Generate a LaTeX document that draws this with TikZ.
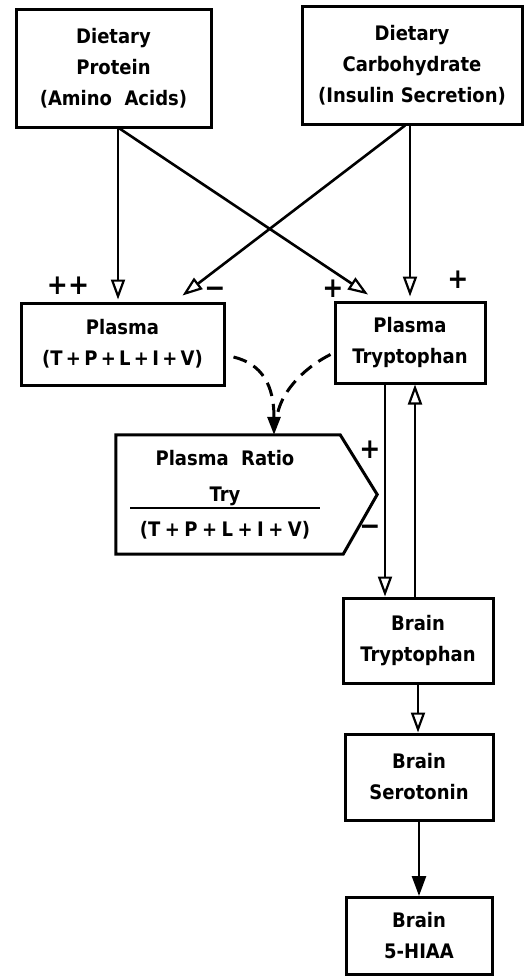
\documentclass[tikz,border=0pt]{standalone}
\usepackage{fontspec}
\setmainfont{DejaVu Sans}
\newfontfamily\lett{DejaVu Sans Condensed Bold}
\usetikzlibrary{arrows.meta}
\newcommand{\pl}{\hspace{3.3pt}+\hspace{3.3pt}}
\newcommand{\plr}{\hspace{4.5pt}+\hspace{4.5pt}}
\begin{document}
\begin{tikzpicture}[x=1pt,y=-1pt,
  box/.style={draw, line width=3pt, align=center, inner sep=0pt, font=\lett\fontsize{20}{31}\selectfont},
  arr/.style={line width=2.6pt, -{Triangle[open,length=20pt,width=14pt,line width=2.2pt]}},
  arrs/.style={line width=2.6pt, -{Triangle[length=20pt,width=14pt]}},
  dpath/.style={line width=3pt, dash pattern=on 14pt off 8pt},
  sign/.style={font=\lett\fontsize{28}{28}\selectfont, inner sep=0pt}]
\useasboundingbox (0,0) rectangle (527,977);

% boxes
\node[box, minimum width=195pt, minimum height=118pt] (prot) at (113.5,68) {Dietary\\Protein\\(Amino~ Acids)};
\node[box, minimum width=220pt, minimum height=118pt] (carb) at (412,65) {Dietary\\Carbohydrate\\(Insulin Secretion)};
\node[box, minimum width=203pt, minimum height=82pt] (plasma) at (122.5,344) {Plasma\\(T\pl P\pl L\pl I\pl V)};
\node[box, minimum width=150pt, minimum height=81pt] (ptry) at (410,342.5) {Plasma\\Tryptophan};
\node[box, minimum width=150pt, minimum height=85pt] (btry) at (418,640.5) {Brain\\Tryptophan};
\node[box, minimum width=148pt, minimum height=86pt] (bser) at (419,777) {Brain\\Serotonin};
\node[box, minimum width=146pt, minimum height=77pt] (bhia) at (419,936) {Brain\\5-HIAA};

% ratio pentagon
\node[minimum width=261pt, minimum height=119pt, inner sep=0pt] (ratio) at (246.5,494.5) {};
\draw[line width=3pt, line join=miter] (ratio.north west) -- ([xshift=-37pt]ratio.north east) -- (ratio.east) -- ([xshift=-34pt]ratio.south east) -- (ratio.south west) -- cycle;
\node[align=center, inner sep=0pt, font=\lett\fontsize{20}{35.5}\selectfont] (ratiotxt) at (225,495) {Plasma~ Ratio\\Try\\(T\plr P\plr L\plr I\plr V)};
\draw[line width=1.8pt] ([xshift=-95pt,yshift=-13pt]ratiotxt.center) -- ([xshift=95pt,yshift=-13pt]ratiotxt.center);

% connectors from diet boxes
\draw[arr] ([xshift=4.5pt]prot.south) -- ([xshift=4.5pt,yshift=2pt]prot.south |- plasma.north);
\draw[arr] ([xshift=6pt]prot.south) -- ([xshift=-42pt,yshift=6pt]ptry.north);
\draw[arr] ([xshift=-7pt]carb.south) -- ([xshift=60pt,yshift=6pt]plasma.north);
\draw[arr] ([xshift=-2pt]carb.south) -- ([xshift=-2pt,yshift=4pt]carb.south |- ptry.north);

% dashed to ratio
\draw[dpath, -{Triangle[length=18pt,width=13pt]}] ([xshift=8pt,yshift=-13pt]plasma.east) .. controls (262,364) and (274,385) .. ([xshift=27.5pt]ratio.north);
\draw[dpath] ([xshift=-3pt,yshift=-12pt]ptry.west) .. controls (300,370) and (280,395) .. ([xshift=30.5pt,yshift=18pt]ratio.north);

% plasma tryptophan <-> brain tryptophan
\draw[arr] ([xshift=-25pt]ptry.south) -- ([xshift=-25pt]ptry.south |- btry.north);
\draw[arr] ([xshift=-3pt]btry.north) -- ([xshift=-3pt]btry.north |- ptry.south);

% brain chain
\draw[arr] (btry.south) -- (btry.south |- bser.north);
\draw[arrs] (bser.south) -- (bser.south |- bhia.north);

% signs
\node[sign] (s1) at (68,286) {++};
\node[sign] (s2) at (215,292) {−};
\node[sign] (s3) at (333,289) {+};
\node[sign] (s4) at (458,280) {+};
\node[sign] (s5) at (370,450) {+};
\node[sign] (s6) at (370,530) {−};
\end{tikzpicture}
\end{document}
